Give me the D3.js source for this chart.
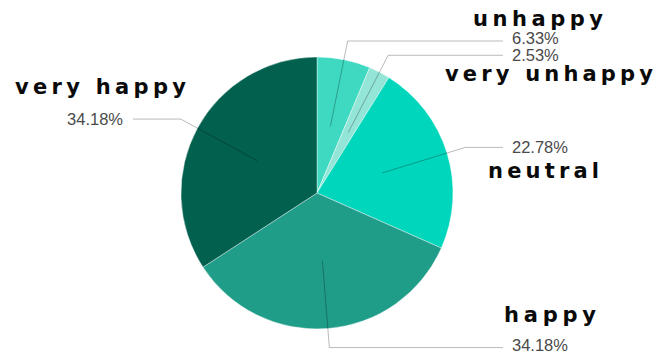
<!DOCTYPE html>
<html>
<head>
<meta charset="utf-8">
<script src="https://cdn.jsdelivr.net/npm/d3@7"></script>
<style>
  html, body { margin: 0; padding: 0; background: #fff; }
  svg { display: block; }
</style>
</head>
<body>
<svg id="chart" width="667" height="356"></svg>
<script>
// Mood survey shares, clockwise from 12 o'clock
const categories = ["unhappy", "very unhappy", "neutral", "happy", "very happy"];
const shares = [6.33, 2.53, 22.78, 34.18, 34.18];
const percentLabels = ["6.33%", "2.53%", "22.78%", "34.18%", "34.18%"];
const sliceColors = ["#3ed9c0", "#93e5d7", "#00d6bb", "#1f9d89", "#02604f"];

const width = 667, height = 356;
const cx = 317, cy = 193, radius = 136;

// Caption placement for the bold category names (left edge, baseline, run length)
const captionPlacement = {
  "unhappy":      { x: 473, y: 26,  len: 130 },
  "very unhappy": { x: 445, y: 81,  len: 208 },
  "neutral":      { x: 488, y: 178, len: 111 },
  "happy":        { x: 504, y: 322, len: 92 },
  "very happy":   { x: 15,  y: 94,  len: 171 }
};
// Small vertical nudges that keep the crowded percentage labels apart
const labelNudge = { "unhappy": -2.5, "very unhappy": -0.5, "happy": -2 };

const svg = d3.select("#chart");
const g = svg.append("g").attr("transform", `translate(${cx},${cy})`);

const rows = categories.map((c, i) => ({ name: c, value: shares[i], label: percentLabels[i], color: sliceColors[i] }));

const pie = d3.pie().sort(null).value(d => d.value).startAngle(0).endAngle(2 * Math.PI);
const arcs = pie(rows);

const arc = d3.arc().innerRadius(0).outerRadius(radius);
const innerArc = d3.arc().innerRadius(radius * 0.5).outerRadius(radius * 0.5);
const elbowArc = d3.arc().innerRadius(radius * 1.14).outerRadius(radius * 1.14);

g.selectAll("path.slice")
  .data(arcs)
  .join("path")
  .attr("class", "slice")
  .attr("d", arc)
  .attr("fill", d => d.data.color)
  .attr("stroke", "#ffffff")
  .attr("stroke-width", 0.4);

// Leader lines: from inside each slice out to an elbow, then horizontally to the label
const lineEndX = { right: 186, left: -184 };
const labelX = { right: 195, left: -194 };
const side = d => ((d.startAngle + d.endAngle) / 2 < Math.PI ? "right" : "left");

g.selectAll("polyline.leader")
  .data(arcs)
  .join("polyline")
  .attr("class", "leader")
  .attr("points", d => {
    const a = innerArc.centroid(d);
    const b = elbowArc.centroid(d);
    const c = [lineEndX[side(d)], b[1]];
    return [a, b, c].map(p => p.join(",")).join(" ");
  })
  .attr("fill", "none")
  .attr("stroke", "#000")
  .attr("stroke-opacity", 0.27)
  .attr("stroke-width", 1);

g.selectAll("text.pct")
  .data(arcs)
  .join("text")
  .attr("class", "pct")
  .attr("x", d => labelX[side(d)])
  .attr("y", d => elbowArc.centroid(d)[1] + (labelNudge[d.data.name] || 0))
  .attr("dy", "0.35em")
  .attr("text-anchor", d => (side(d) === "right" ? "start" : "end"))
  .attr("font-family", "'Liberation Sans', Arial, sans-serif")
  .attr("font-size", 16.5)
  .attr("fill", "#4a4a4a")
  .text(d => d.data.label);

// Bold, widely tracked category names
svg.selectAll("text.caption")
  .data(categories)
  .join("text")
  .attr("class", "caption")
  .attr("x", d => captionPlacement[d].x)
  .attr("y", d => captionPlacement[d].y)
  .attr("textLength", d => captionPlacement[d].len)
  .attr("lengthAdjust", "spacing")
  .attr("font-family", "'DejaVu Sans', sans-serif")
  .attr("font-weight", 700)
  .attr("font-size", 21)
  .attr("fill", "#0a0a0a")
  .text(d => d);
</script>
</body>
</html>
